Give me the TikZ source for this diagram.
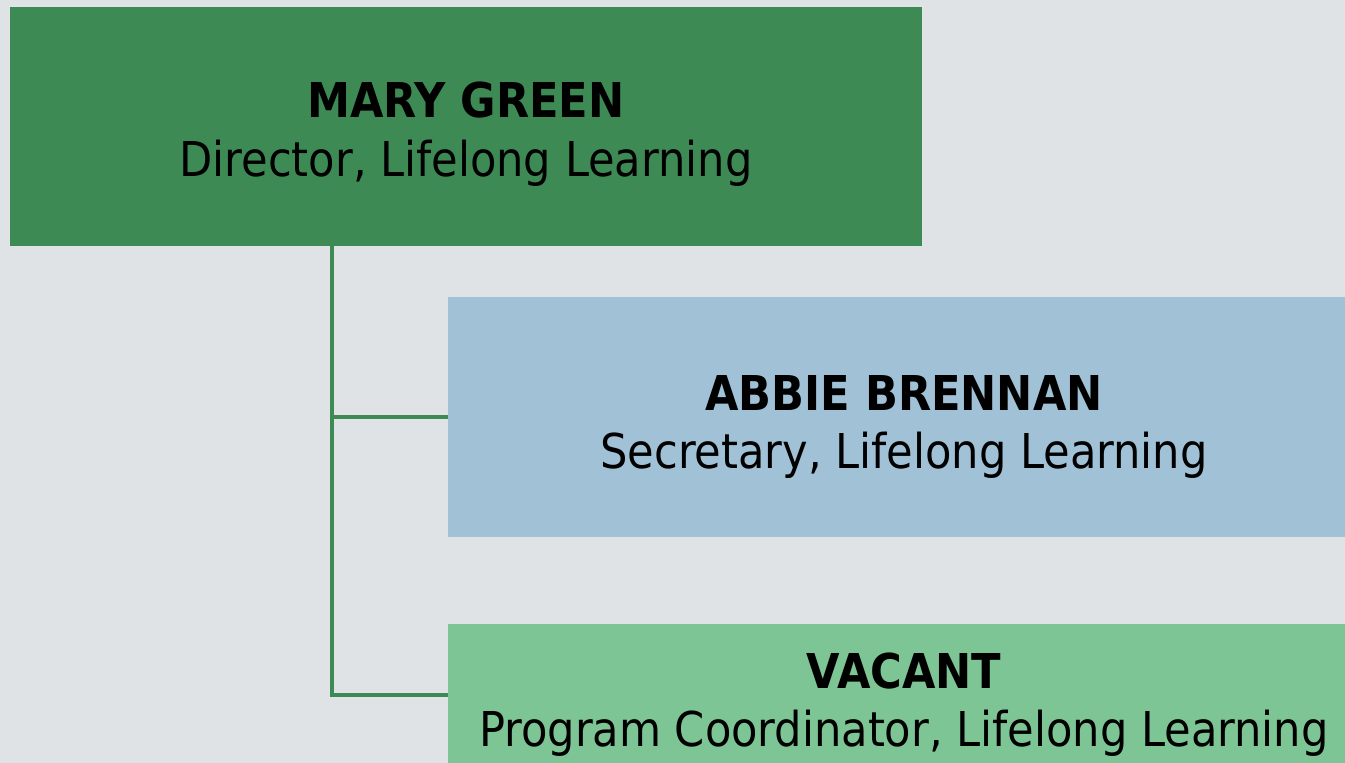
\documentclass[tikz,border=0pt]{standalone}
\usepackage{fontspec}
\setmainfont{DejaVu Sans Condensed}
\definecolor{bgc}{HTML}{DFE3E6}
\definecolor{dkgreen}{HTML}{3E8A55}
\definecolor{ltblue}{HTML}{A0C1D6}
\definecolor{ltgreen}{HTML}{7DC594}
\begin{document}
\begin{tikzpicture}[x=1pt,y=-1pt,
  box/.style={draw=none, inner sep=0pt, minimum width=912pt, minimum height=240pt},
  pname/.style={inner sep=0pt, anchor=base, font=\fontsize{48}{58}\selectfont\bfseries},
  prole/.style={inner sep=0pt, anchor=base, font=\fontsize{48}{58}\selectfont},
  conn/.style={draw=dkgreen, line width=4pt}]
\useasboundingbox (0,0) rectangle (1345,763);
\clip (0,0) rectangle (1345,763);
\fill[bgc] (0,0) rectangle (1345,763);
\coordinate (trunk) at (332,0);
\node[box, fill=dkgreen, minimum height=239pt] (mary) at (466,126.5) {};
\node[box, fill=ltblue] (abbie) at (904,417) {};
\node[box, fill=ltgreen] (vacant) at (904,744) {};
\draw[conn] (mary.south -| trunk) |- (abbie.west);
\draw[conn] (mary.south -| trunk) |- ([yshift=-71pt]vacant.north west);
\node[pname] (maryname) at (466,117) {MARY GREEN};
\node[prole] (maryrole) at (466,176) {Director, Lifelong Learning};
\node[pname] (abbiename) at (904,410) {ABBIE BRENNAN};
\node[prole] (abbierole) at (904,468) {Secretary, Lifelong Learning};
\node[pname] (vacantname) at (904,688) {VACANT};
\node[prole] (vacantrole) at (904,746) {Program Coordinator, Lifelong Learning};
\end{tikzpicture}
\end{document}
